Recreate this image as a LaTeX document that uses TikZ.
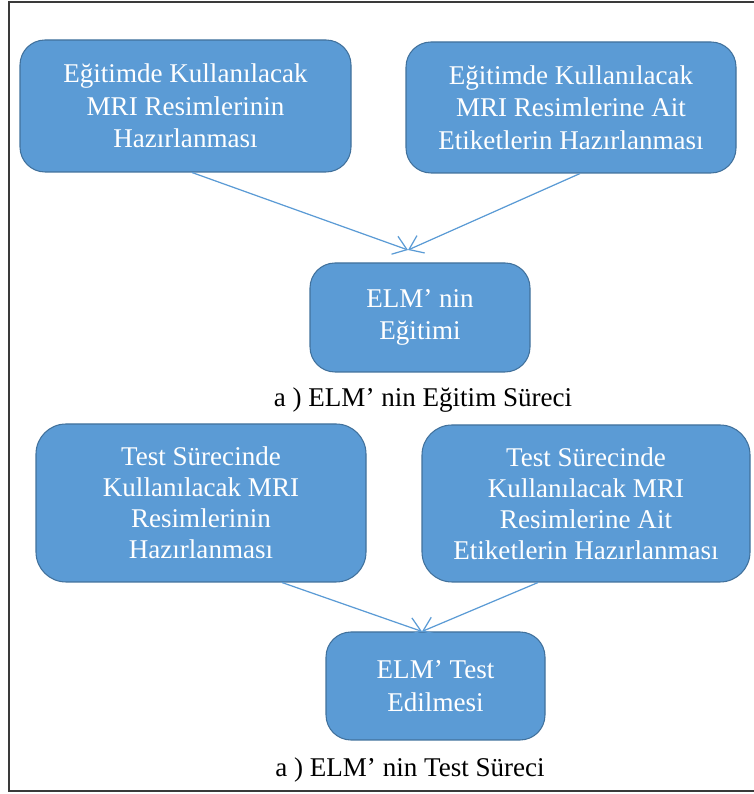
\documentclass[tikz,border=0pt]{standalone}
\usepackage{fontspec}
\setmainfont{Liberation Serif}
\usetikzlibrary{arrows.meta}
\definecolor{boxfill}{HTML}{5B9BD5}
\definecolor{boxedge}{HTML}{41719C}
\definecolor{framegray}{HTML}{3A3A3A}
\tikzset{
    box/.style={draw=boxedge, line width=0.6pt, fill=boxfill, text=white, align=center,
        rounded corners=0.5cm, inner sep=0pt, font=\fontsize{15.4}{18.6}\selectfont},
    captext/.style={font=\fontsize{15.4}{18.6}\selectfont},
    flow/.style={draw=boxfill, line width=0.7pt, -{Straight Barb[length=2.6mm,width=3.8mm]}}
}
\begin{document}
\begin{tikzpicture}
            \useasboundingbox (0,0) rectangle (15.08,15.88);
            \draw[framegray, line width=1.1pt] (15.3,15.84) -- (0.18,15.84) -- (0.18,0.06) -- (15.3,0.06);

            \node[box, minimum width=6.62cm, minimum height=2.64cm] (ImgA) at (3.71,13.76) {Eğitimde Kullanılacak\\MRI Resimlerinin\\Hazırlanması};
            \node[box, minimum width=6.6cm, minimum height=2.62cm] (LblA) at (11.42,13.73) {Eğitimde Kullanılacak\\MRI Resimlerine Ait\\Etiketlerin Hazırlanması};
            \node[box, minimum width=4.4cm, minimum height=2.18cm] (Train) at (8.4,9.53) {ELM’ nin\\Eğitimi};
            \node[captext] (CapA) at (8.46,7.88) {a ) ELM’ nin Eğitim Süreci};
            \node[box, minimum width=6.6cm, minimum height=3.16cm, rounded corners=0.6cm, font=\fontsize{15.4}{17.6}\selectfont] (ImgB) at (4.02,5.82) {Test Sürecinde\\Kullanılacak MRI\\Resimlerinin\\Hazırlanması};
            \node[box, minimum width=6.56cm, minimum height=3.14cm, rounded corners=0.6cm, font=\fontsize{15.4}{17.6}\selectfont] (LblB) at (11.72,5.81) {Test Sürecinde\\Kullanılacak MRI\\Resimlerine Ait\\Etiketlerin Hazırlanması};
            \node[box, minimum width=4.38cm, minimum height=2.16cm] (Test) at (8.71,2.16) {ELM’ Test\\Edilmesi};
            \node[captext] (CapB) at (8.2,0.48) {a ) ELM’ nin Test Süreci};

            \coordinate (tipA) at (8.16,10.88);
            \draw[flow] ([xshift=0.13cm]ImgA.south) to (tipA); \draw[flow] ([xshift=0.18cm]LblA.south) to (tipA);
            \draw[flow] ([xshift=1.62cm]ImgB.south) to ([xshift=-0.27cm]Test.north); \draw[flow] ([xshift=-0.96cm]LblB.south) to ([xshift=-0.27cm]Test.north);
        \end{tikzpicture}
\end{document}
